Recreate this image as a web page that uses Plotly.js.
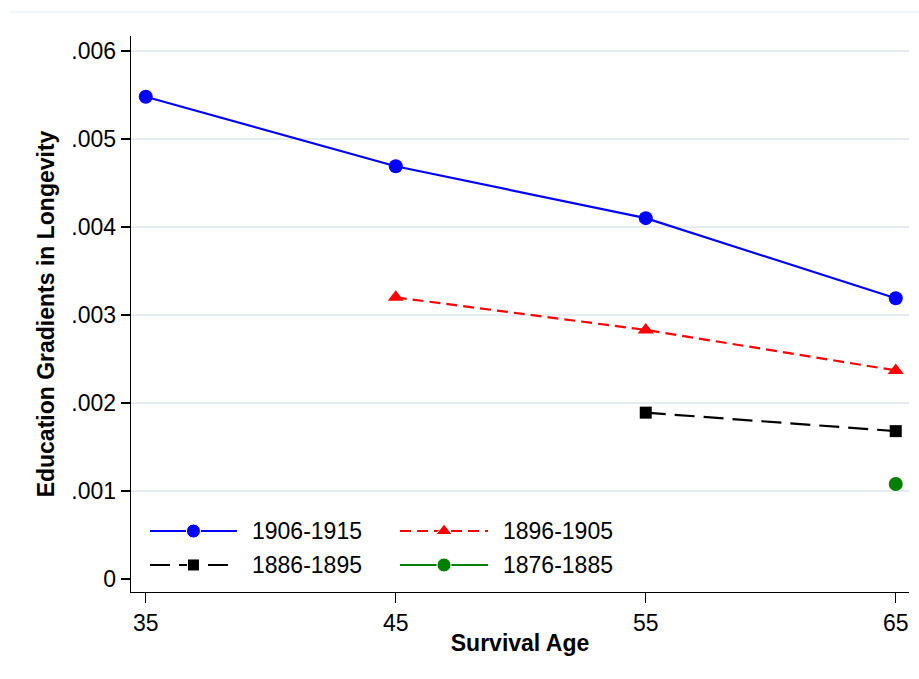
<!DOCTYPE html>
<html>
<head>
<meta charset="utf-8">
<script src="https://cdn.plot.ly/plotly-3.0.1.min.js"></script>
<style>
  html, body { margin: 0; padding: 0; background: #fff; }
  #chart { width: 919px; height: 679px; }
</style>
</head>
<body>
<div id="chart"></div>
<script>
// Survival ages on the x axis
const ages = [35, 45, 55, 65];

// Education gradient estimates per birth cohort (null = not estimated)
const cohort1906 = [0.00548, 0.00469, 0.00410, 0.00319];
const cohort1896 = [null, 0.00320, 0.00283, 0.00237];
const cohort1886 = [null, null, 0.00189, 0.00168];
const cohort1876 = [null, null, null, 0.00108];

const seriesNames = ['1906-1915', '1896-1905', '1886-1895', '1876-1885'];
const seriesColors = ['#0000ff', '#ff0000', '#000000', '#008000'];
const seriesDash = ['solid', '11px,6px', '20px,9px', 'solid'];
const seriesSymbols = ['circle', 'triangle-up', 'square', 'circle'];
const seriesSizes = [14, 14, 12, 14];

const yTickVals = [0, 0.001, 0.002, 0.003, 0.004, 0.005, 0.006];
const yTickText = ['0', '.001', '.002', '.003', '.004', '.005', '.006'];
const xTickVals = [35, 45, 55, 65];

const seriesValues = [cohort1906, cohort1896, cohort1886, cohort1876];

const FONT = 'Liberation Sans, Arial, Helvetica, sans-serif';
const FS = 23;

const traces = seriesValues.map((vals, i) => ({
  type: 'scatter',
  mode: 'lines+markers',
  x: ages,
  y: vals,
  name: seriesNames[i],
  connectgaps: false,
  line: { color: seriesColors[i], width: 2.2, dash: seriesDash[i] },
  marker: { color: seriesColors[i], symbol: seriesSymbols[i], size: seriesSizes[i], opacity: 1 },
  showlegend: false,
  hoverinfo: 'skip'
}));

// Key drawn inside the plot area on an overlay axis pair spanning 0..1
const keyCols = [[0.0244, 0.1362], [0.3458, 0.4589]];
const keyRows = [0.1097, 0.0486];
const keyOrder = [[0, 0], [1, 0], [0, 1], [1, 1]]; // [col,row] for each series
const annotations = [];
seriesNames.forEach((nm, i) => {
  const [c, r] = keyOrder[i];
  const x0 = keyCols[c][0], x1 = keyCols[c][1];
  const xm = (x0 + x1) / 2;
  const y = keyRows[r];
  traces.push({
    type: 'scatter',
    mode: 'lines+markers',
    x: [x0, xm, x1],
    y: [y, y, y],
    xaxis: 'x2',
    yaxis: 'y2',
    line: { color: seriesColors[i], width: 2.2, dash: seriesDash[i] },
    marker: { color: seriesColors[i], symbol: seriesSymbols[i], size: [0, seriesSizes[i], 0], opacity: 1 },
    showlegend: false,
    hoverinfo: 'skip'
  });
  annotations.push({
    xref: 'x2', yref: 'y2',
    x: x1 + 0.017, y: y,
    xanchor: 'left', yanchor: 'middle',
    text: nm, showarrow: false,
    font: { family: FONT, size: FS, color: '#000' }
  });
});

const layout = {
  width: 919,
  height: 679,
  margin: { l: 131, r: 10, t: 36, b: 87 },
  paper_bgcolor: '#ffffff',
  plot_bgcolor: '#ffffff',
  showlegend: false,
  font: { family: FONT, color: '#000' },
  xaxis: {
    range: [34.41, 65.53],
    tickvals: xTickVals,
    ticktext: xTickVals.map(String),
    ticks: 'outside', ticklen: 10, tickwidth: 1.3, tickcolor: '#000',
    showline: true, linecolor: '#000', linewidth: 1.3,
    showgrid: false, zeroline: false,
    tickfont: { family: FONT, size: FS, color: '#000' },
    title: { text: '<b>Survival Age</b>', font: { family: FONT, size: FS, color: '#000' }, standoff: 0 }
  },
  yaxis: {
    range: [-0.000148, 0.00617],
    tickvals: yTickVals,
    ticktext: yTickText,
    ticks: 'outside', ticklen: 9, tickwidth: 1.3, tickcolor: '#000',
    showline: true, linecolor: '#000', linewidth: 1.3,
    showgrid: true, gridcolor: '#e6edf1', gridwidth: 2,
    zeroline: true, zerolinecolor: 'rgba(0,0,0,0)',
    tickfont: { family: FONT, size: FS, color: '#000' },
    title: { text: '<b>Education Gradients in Longevity</b>', font: { family: FONT, size: FS, color: '#000' }, standoff: 10 }
  },
  xaxis2: { overlaying: 'x', range: [0, 1], visible: false, fixedrange: true },
  yaxis2: { overlaying: 'y', range: [0, 1], visible: false, fixedrange: true },
  annotations: annotations,
  shapes: [
    {
      type: 'line', xref: 'paper', yref: 'paper',
      x0: -0.157, x1: 1.0129, y0: 1.0432, y1: 1.0432,
      line: { color: '#e8eef2', width: 1 }
    }
  ]
};

Plotly.newPlot('chart', traces, layout, { displayModeBar: false, staticPlot: true });
</script>
</body>
</html>
